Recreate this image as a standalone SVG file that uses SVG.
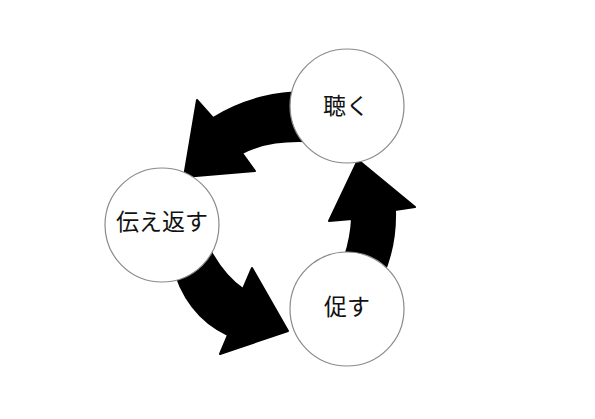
<svg xmlns="http://www.w3.org/2000/svg" width="595" height="419" viewBox="0 0 595 419">
<style>
.arrow{fill:#000;stroke:#000;stroke-width:2;stroke-linejoin:round}
.node circle{fill:#fff;stroke:#8a8a8a;stroke-width:1.2}
.node text{font-family:"Noto Sans CJK JP","Noto Sans",sans-serif;font-size:23px;fill:#111;text-anchor:middle}
</style>
<rect width="595" height="419" fill="#fff"/>
<g id="connectors">
<path class="arrow" d="M 320,93 C 280,89 242,100 213,118 L 197,100 L 184,177 L 255,171 L 242,153 C 262,143 285,139 320,142 Z"/>
<path class="arrow" d="M 172,262 Q 185,315 228,335 L 220,354 L 288,331 L 252,268 L 243,289 Q 224,276 210,250 Z"/>
<path class="arrow" d="M 343,262 Q 351,240 352,219 L 329,221 L 358,160 L 415,207 L 395,210 Q 396,245 383,275 Z"/>
</g>
<g id="node-kiku" class="node">
<circle cx="347" cy="106" r="57"/>
<text x="346" y="114">聴く</text>
</g>
<g id="node-tsutaekaesu" class="node">
<circle cx="162" cy="225" r="57"/>
<text x="162" y="230">伝え返す</text>
</g>
<g id="node-unagasu" class="node">
<circle cx="347" cy="309" r="57"/>
<text x="347" y="315">促す</text>
</g>
</svg>
